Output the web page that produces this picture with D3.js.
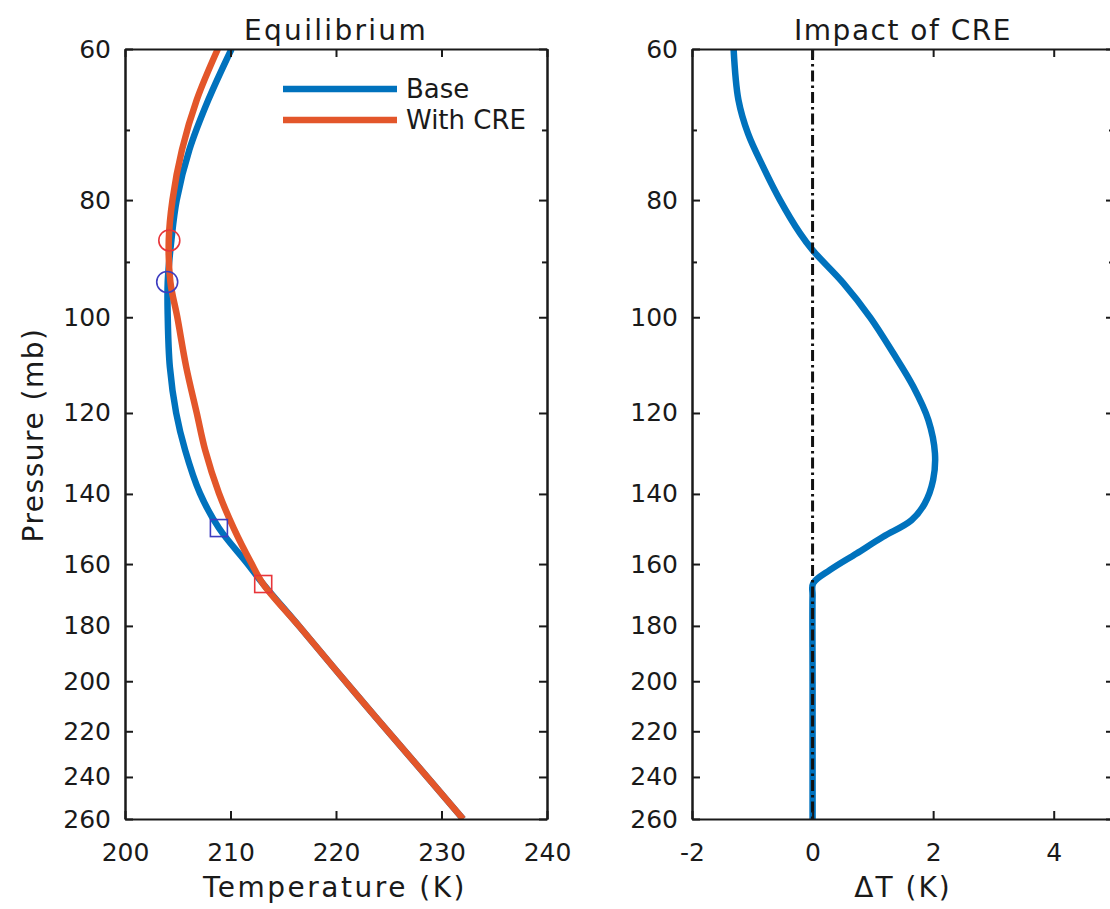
<!DOCTYPE html>
<html>
<head>
<meta charset="utf-8">
<script src="https://cdn.jsdelivr.net/npm/d3@7"></script>
<style>
  html, body { margin: 0; padding: 0; background: #fff; }
  svg { display: block; }
  text { font-family: "DejaVu Sans", sans-serif; fill: #1a1a1a; }
</style>
</head>
<body>
<svg id="chart" width="1110" height="909"></svg>
<script>
// ---------------- data ----------------
const pressureTicks = [60, 80, 100, 120, 140, 160, 180, 200, 220, 240, 260];
const minorPressureTicks = [70, 90];
const tempTicks = [200, 210, 220, 230, 240];
const deltaTicks = [-2, 0, 2, 4];

// Base profile (blue)
const basePressure = [60, 66.1, 72.7, 80.0, 86.3, 93.5, 99.9, 109.9, 120.0, 128.8, 139.8, 149.4, 159.7, 166.2, 180.3, 204.7, 232.3, 260];
const baseTemp     = [210.1, 207.9, 206.1, 204.9, 204.4, 204.05, 204.05, 204.25, 204.85, 205.7, 207.1, 208.9, 211.55, 213.1, 216.55, 221.85, 227.25, 232.05];

// With CRE profile (orange)
const crePressure = [60, 66.1, 72.7, 80.0, 86.3, 93.5, 99.9, 109.9, 120.0, 128.8, 139.8, 149.4, 159.7, 166.2, 180.3, 204.7, 232.3, 260];
const creTemp     = [208.8, 206.8, 205.4, 204.5, 204.15, 204.3, 204.95, 205.8, 206.8, 207.6, 208.9, 210.3, 211.97, 213.1, 216.55, 221.85, 227.25, 232.05];

// Markers: circle (first) and square (second)
const baseMarkerPressure = [93.5, 149.4];
const baseMarkerTemp     = [204.0, 208.9];
const creMarkerPressure  = [86.4, 166.2];
const creMarkerTemp      = [204.2, 213.1];

// Impact of CRE (delta T)
const deltaPressure = [60, 66.1, 70.5, 75.1, 80.0, 85.2, 88.0, 93.7, 100.1, 107.1, 114.1, 121.6, 129.6, 136.3, 142.6, 147.2, 151.9, 156.8, 161.8, 166.0, 170, 200, 260];
const deltaT        = [-1.31, -1.23, -1.07, -0.82, -0.54, -0.21, 0.0, 0.51, 0.96, 1.34, 1.67, 1.92, 2.03, 2.00, 1.86, 1.64, 1.17, 0.73, 0.29, 0.01, 0.0, 0.0, 0.0];

const legendLabels = ["Base", "With CRE"];
const colors = { base: "#0072BD", cre: "#E3562A", baseMark: "#3d3dc0", creMark: "#e8353a" };

// ---------------- layout ----------------
const svg = d3.select("#chart");
svg.append("rect").attr("width", 1110).attr("height", 909).attr("fill", "#fff");

const plotTop = 49, plotBottom = 819;
const y = d3.scaleLog().domain([60, 260]).range([plotTop, plotBottom]);
const xL = d3.scaleLinear().domain([200, 240]).range([125, 547]);
const xR = d3.scaleLinear().domain([-2, 5]).range([692, 1114]);
const fmt = d => String(d);

function drawFrame(x, xTicks) {
  const g = svg.append("g");
  const [x0, x1] = x.range();
  g.append("g").attr("transform", `translate(0,${plotBottom})`)
    .call(d3.axisBottom(x).tickValues(xTicks).tickSizeInner(-8).tickSizeOuter(0).tickPadding(24).tickFormat(fmt));
  g.append("g").attr("transform", `translate(0,${plotTop})`)
    .call(d3.axisTop(x).tickValues(xTicks).tickSizeInner(-8).tickSizeOuter(0).tickFormat(""));
  g.append("g").attr("transform", `translate(${x0},0)`)
    .call(d3.axisLeft(y).tickValues(pressureTicks).tickSizeInner(-8).tickSizeOuter(0).tickPadding(14).tickFormat(fmt));
  g.append("g").attr("transform", `translate(${x0},0)`)
    .call(d3.axisLeft(y).tickValues(minorPressureTicks).tickSizeInner(-5).tickSizeOuter(0).tickFormat(""));
  g.append("g").attr("transform", `translate(${x1},0)`)
    .call(d3.axisRight(y).tickValues(pressureTicks).tickSizeInner(-8).tickSizeOuter(0).tickFormat(""));
  g.append("g").attr("transform", `translate(${x1},0)`)
    .call(d3.axisRight(y).tickValues(minorPressureTicks).tickSizeInner(-5).tickSizeOuter(0).tickFormat(""));
  g.selectAll(".domain").attr("stroke", "#1a1a1a").attr("stroke-width", 2);
  g.selectAll(".tick line").attr("stroke", "#1a1a1a").attr("stroke-width", 2);
  g.selectAll(".tick text").attr("font-size", 25).attr("font-family", "DejaVu Sans").attr("fill", "#1a1a1a");
  return g;
}

// clip paths
svg.append("clipPath").attr("id", "clipL").append("rect")
  .attr("x", 125).attr("y", plotTop).attr("width", 547 - 125).attr("height", plotBottom - plotTop);
svg.append("clipPath").attr("id", "clipR").append("rect")
  .attr("x", 692).attr("y", plotTop).attr("width", 1114 - 692).attr("height", plotBottom - plotTop);

const lineL = d3.line().x(d => xL(d[1])).y(d => y(d[0])).curve(d3.curveCatmullRom.alpha(0.5));
const lineR = d3.line().x(d => xR(d[1])).y(d => y(d[0])).curve(d3.curveCatmullRom.alpha(0.5));

// ---------------- left panel ----------------
const gL = svg.append("g").attr("clip-path", "url(#clipL)");
gL.append("path").datum(d3.zip(basePressure, baseTemp))
  .attr("d", lineL).attr("fill", "none").attr("stroke", colors.base).attr("stroke-width", 6.5);
gL.append("path").datum(d3.zip(crePressure, creTemp))
  .attr("d", lineL).attr("fill", "none").attr("stroke", colors.cre).attr("stroke-width", 6.5);

function markers(P, T, color) {
  const pts = d3.zip(P, T);
  gL.append("circle").attr("cx", xL(pts[0][1])).attr("cy", y(pts[0][0])).attr("r", 10.5)
    .attr("fill", "none").attr("stroke", color).attr("stroke-width", 1.6);
  const s = 17;
  gL.append("rect").attr("x", xL(pts[1][1]) - s / 2).attr("y", y(pts[1][0]) - s / 2)
    .attr("width", s).attr("height", s).attr("fill", "none").attr("stroke", color).attr("stroke-width", 1.6);
}
markers(baseMarkerPressure, baseMarkerTemp, colors.baseMark);
markers(creMarkerPressure, creMarkerTemp, colors.creMark);

drawFrame(xL, tempTicks);

// legend
const legColors = [colors.base, colors.cre];
const leg = svg.append("g");
legendLabels.forEach((lab, i) => {
  const ly = 89 + i * 31;
  leg.append("line").attr("x1", 283).attr("x2", 397).attr("y1", ly).attr("y2", ly)
    .attr("stroke", legColors[i]).attr("stroke-width", 6.5);
  leg.append("text").attr("x", 406).attr("y", ly).attr("dy", "0.36em")
    .attr("font-size", 26).text(lab);
});

// titles / labels
svg.append("text").attr("x", 336).attr("y", 40).attr("text-anchor", "middle")
  .attr("font-size", 28).attr("letter-spacing", 2.3).text("Equilibrium");
svg.append("text").attr("x", 335).attr("y", 897).attr("text-anchor", "middle")
  .attr("font-size", 28).attr("letter-spacing", 2.5).text("Temperature (K)");
svg.append("text").attr("transform", "translate(43,435) rotate(-90)").attr("text-anchor", "middle")
  .attr("font-size", 28).attr("letter-spacing", 1.5).text("Pressure (mb)");

// ---------------- right panel ----------------
const gR = svg.append("g").attr("clip-path", "url(#clipR)");
gR.append("path").datum(d3.zip(deltaPressure, deltaT))
  .attr("d", lineR).attr("fill", "none").attr("stroke", colors.base).attr("stroke-width", 6.5);
gR.append("line").attr("x1", xR(0)).attr("x2", xR(0)).attr("y1", y(60)).attr("y2", y(260))
  .attr("stroke", "#111").attr("stroke-width", 3).attr("stroke-dasharray", "11,4,2.5,4");

drawFrame(xR, deltaTicks);

svg.append("text").attr("x", 903).attr("y", 40).attr("text-anchor", "middle")
  .attr("font-size", 28).attr("letter-spacing", 1.5).text("Impact of CRE");
svg.append("text").attr("x", 903).attr("y", 897).attr("text-anchor", "middle")
  .attr("font-size", 28).attr("letter-spacing", 2).text("ΔT (K)");
</script>
</body>
</html>
